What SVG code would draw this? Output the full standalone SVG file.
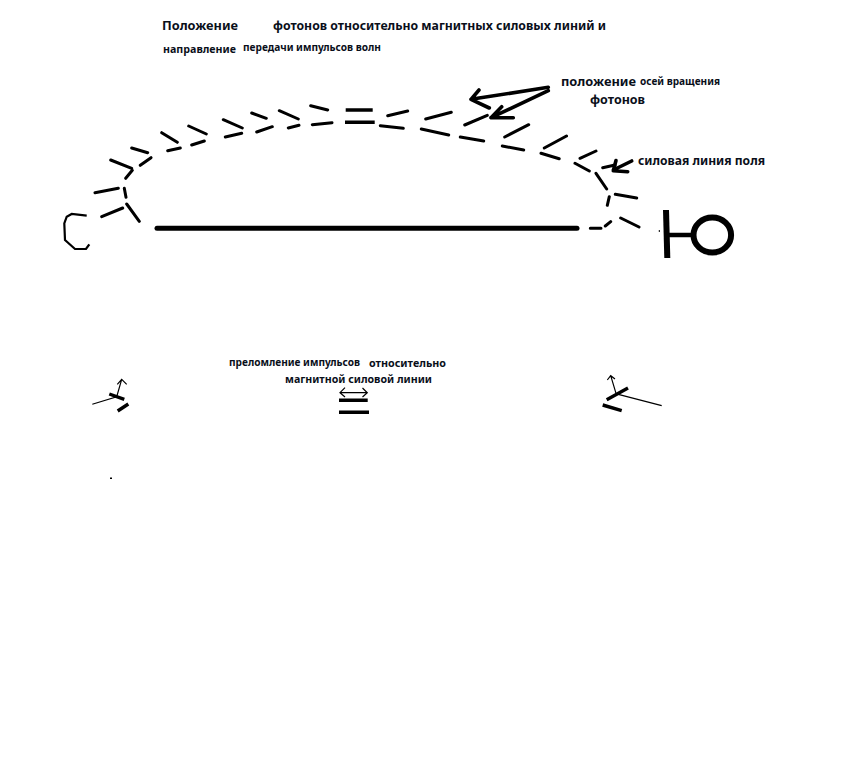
<svg xmlns="http://www.w3.org/2000/svg" width="857" height="777" viewBox="0 0 857 777">
<style>
text{font-family:"Noto Sans","Liberation Sans",sans-serif;font-weight:700;fill:#0a0f1a}
.t13{font-size:13px}.t11{font-size:10.5px}.t10{font-size:10px}
.d{stroke:#000;stroke-width:3;fill:none;stroke-linecap:round}
.a{stroke:#000;stroke-width:3.6;fill:none;stroke-linecap:round;stroke-linejoin:round}
.h{stroke:#000;stroke-width:3.400;fill:none}
.n{stroke:#000;stroke-width:1.200;fill:none}
</style>
<rect width="857" height="777" fill="#fff"/>
<g id="connectors">
<path id="field-line-main" d="M157 228.300H577" stroke="#000" stroke-width="5" stroke-linecap="round" fill="none"/>
<path id="photons-curve" class="d" d="M95 192.700L118.300 188.300M101.700 216.700L122.700 208M124.300 188.300L126 197.300M126.700 204L139.300 221.300M110.700 160L131.700 168.300M125.700 178.300L132.300 170.300M131.700 148L147.700 152.700M140.300 165.300L151 157.700M161.700 132.700L177.300 142.300M167.700 150.700L180.300 148M188.700 126L206.300 134M191.700 145L204.300 141M223.300 119.700L242.300 128M225.300 137L241.700 133.300M251.700 113L266.300 118.300M256.700 132L272.300 126.700M279.300 110.700L298.300 119M288.300 128L299 125.300M310.700 105.700L327.700 110M312.300 124.700L332 122.700M387.700 115.700L407.700 111M380.300 125.700L403.300 128.300M425.700 119L451.300 112.300M421.300 129L448.700 135M464.700 125L487.300 115.300M460.300 137L483.700 141M504.700 137L528.700 124.700M502.300 146L523.700 150M544.300 148L566.500 136M541 153.300L559.200 158.800M580 158.300L596 151M575 163.300L589.300 171M602.700 167.700L615 165M596 173.300L606.700 189M609.300 196.700L607.300 205.300M615.300 194.300L636.700 198M620.700 218L639 227M605.300 226L610.700 221.700M590.300 228.300L601 228.300"/>
<path id="photons-top" class="h" d="M345.700 110H372.700M345 122.300H374.700"/>
<path id="arrow-axes-1" class="a" d="M548.300 87.300L471 99.300M479 90L471 99.300L489.300 108"/>
<path id="arrow-axes-2" class="a" d="M548.300 90.700L491 117.700M501.700 106.700L491 117.700L513.300 117.700"/>
<path id="arrow-field" class="a" d="M631.700 161L613.300 170M616 160.500L613.300 170.700L627.700 171.700"/>
<path id="refr-left-thin" class="n" d="M92.300 404.300L116.700 396.700L121.700 379.300M117.300 384.300L121.700 379.300L126.700 384.300"/>
<path id="refr-left-thick" class="h" d="M109.300 394L124.300 399.300M117.700 411L128.300 404"/>
<path id="refr-mid-arrow" class="n" d="M340 392.700H367.300M345 387.700L340 392.700L345 397M362.500 388L367.300 392.700L362.500 397"/>
<path id="refr-mid-thick" class="h" d="M339 400.300H367.700M339 412.300H369"/>
<path id="refr-right-thin" class="n" d="M618.300 394.300L661.700 405.700M616 393.300L610.700 375.700M607.300 380L610.700 375.700L615 379"/>
<path id="refr-right-thick" class="h" d="M606.700 399.700L628 388M602.700 405L621.700 410.700"/>
</g>
<g id="node-c">
<path d="M86.700 215.700L71.700 214L66.700 216.700L64.300 223.300L65 240L75 249L86 249L89.300 244.300" fill="none" stroke="#000" stroke-width="2.200"/>
</g>
<g id="node-yu" fill="none" stroke="#000">
<path d="M666 210L667.300 258" stroke-width="6"/>
<path d="M667.300 235H693" stroke-width="4.500"/>
<ellipse cx="712.300" cy="235" rx="18.800" ry="17.500" stroke-width="6"/>
<path d="M659.300 230v2" stroke-width="1"/>
</g>
<path id="speck" d="M110 478.300h2" stroke="#000" stroke-width="1.500"/>
<g id="labels">
<text class="t13" x="162" y="29.500" textLength="76" lengthAdjust="spacingAndGlyphs">Положение</text>
<text class="t13" x="273" y="29.500" textLength="333" lengthAdjust="spacingAndGlyphs">фотонов относительно магнитных силовых линий и</text>
<text class="t11" x="163" y="53" textLength="73" lengthAdjust="spacingAndGlyphs">направление</text>
<text class="t10" x="243" y="51" textLength="138" lengthAdjust="spacingAndGlyphs">передачи импульсов волн</text>
<text class="t13" x="561" y="86" textLength="75" lengthAdjust="spacingAndGlyphs">положение</text>
<text class="t10" x="640" y="85" textLength="80" lengthAdjust="spacingAndGlyphs">осей вращения</text>
<text class="t13" x="590" y="104" textLength="55" lengthAdjust="spacingAndGlyphs">фотонов</text>
<text class="t13" x="638" y="165" textLength="127" lengthAdjust="spacingAndGlyphs">силовая линия поля</text>
<text class="t11" x="229" y="366" textLength="131" lengthAdjust="spacingAndGlyphs">преломление импульсов</text>
<text class="t11" x="369" y="367" textLength="77" lengthAdjust="spacingAndGlyphs">относительно</text>
<text class="t11" x="285" y="383" textLength="147" lengthAdjust="spacingAndGlyphs">магнитной силовой линии</text>
</g>
</svg>
